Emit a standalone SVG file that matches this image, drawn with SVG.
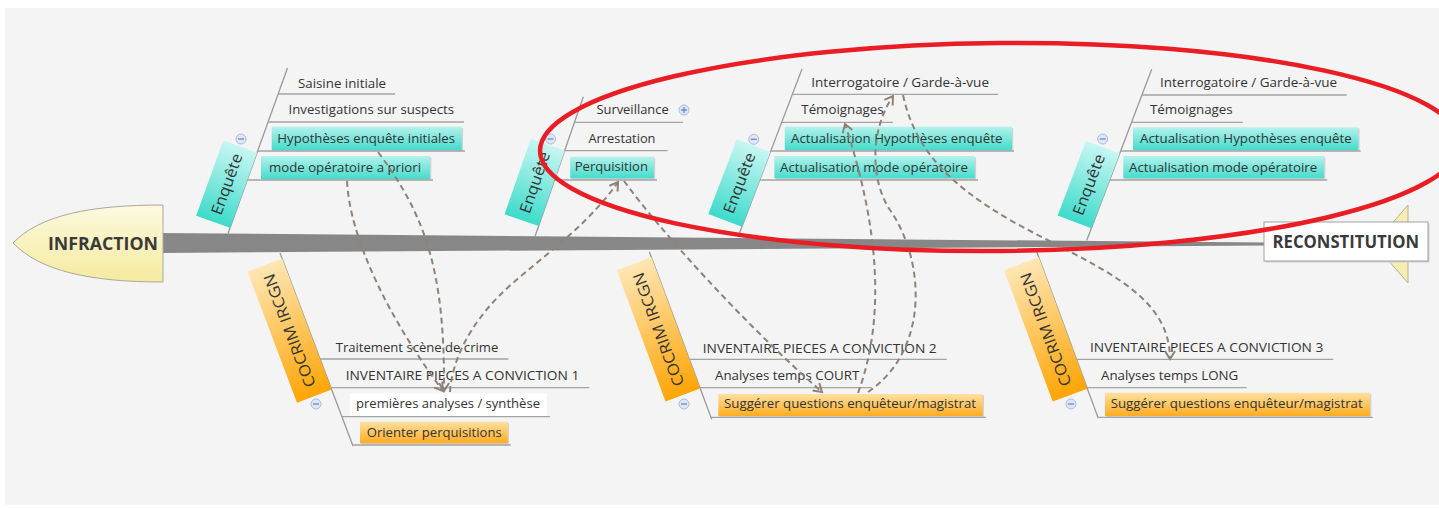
<svg xmlns="http://www.w3.org/2000/svg" width="1439" height="508" viewBox="0 0 1439 508">
<defs>
<style>
.t{font-family:"Open Sans","Liberation Sans",sans-serif;font-size:13px;fill:#333}
.cat{font-family:"Open Sans","Liberation Sans",sans-serif;font-size:15.5px;fill:#333}
.big{font-family:"Open Sans","Liberation Sans",sans-serif;font-size:17px;font-weight:bold;fill:#3a3a3a}
.sl{stroke:#a3a3a3;stroke-width:1.3;fill:none}
.dg{stroke:#9a9a9a;stroke-width:1.3;fill:none}
.teal{fill:url(#gTeal)}
.org{fill:url(#gOrg)}
.sh{fill:#d2d2d2}
.conn{fill:none;stroke:#8e8279;stroke-width:2;stroke-dasharray:6 4;marker-end:url(#arr)}
.ic circle{fill:#dfe7f7;stroke:#a9bbe3;stroke-width:1}
.ic path{stroke:#6f88c9;stroke-width:1.3;fill:none}
</style>
<linearGradient id="gTeal" x1="0" y1="0" x2="0" y2="1"><stop offset="0" stop-color="#b4f2ec"/><stop offset="1" stop-color="#44dccb"/></linearGradient>
<linearGradient id="gOrg" x1="0" y1="0" x2="0" y2="1"><stop offset="0" stop-color="#ffe0a2"/><stop offset="1" stop-color="#ffac20"/></linearGradient>
<linearGradient id="gEnq" x1="1" y1="0" x2="0" y2="0"><stop offset="0" stop-color="#c8f6f2"/><stop offset="1" stop-color="#3ddbca"/></linearGradient>
<linearGradient id="gCoc" x1="0" y1="0" x2="1" y2="0"><stop offset="0" stop-color="#ffe6b4"/><stop offset="1" stop-color="#ffa506"/></linearGradient>
<linearGradient id="gHead" x1="0" y1="0" x2="0" y2="1"><stop offset="0" stop-color="#fdf9e0"/><stop offset="1" stop-color="#f5ea9e"/></linearGradient>
<marker id="arr" markerUnits="userSpaceOnUse" markerWidth="14" markerHeight="14" refX="10" refY="6" orient="auto" viewBox="0 0 14 12">
<path d="M2,1 L10,6 L2,11" fill="none" stroke="#8e8279" stroke-width="2"/>
</marker>
</defs>

<rect x="0" y="0" width="1439" height="508" fill="#ffffff"/>
<rect x="5" y="8" width="1434" height="497" fill="#f4f4f4"/>

<g id="spine">
<polygon points="160,233 1264,242.5 1264,245.5 160,253" fill="#878787"/>
</g>

<g id="tail">
<polygon points="1408,205 1374,244 1408,283" fill="#f7eeb2" stroke="#b0b0a0" stroke-width="1"/>
</g>

<g id="infraction">
<path d="M163,205 C90,205 40,215 13,243 C40,271 90,282 163,282 Z" fill="url(#gHead)" stroke="#a8a8a0" stroke-width="1"/>
<text class="big" x="48" y="250" textLength="110" lengthAdjust="spacingAndGlyphs">INFRACTION</text>
</g>

<g id="reconstitution">
<rect x="1265.5" y="223.5" width="164" height="39" class="sh"/>
<rect x="1264" y="222" width="164" height="39" fill="#ffffff" stroke="#a0a0a0" stroke-width="1"/>
<text class="big" x="1272.5" y="248" textLength="146.7" lengthAdjust="spacingAndGlyphs">RECONSTITUTION</text>
</g>

<!-- Branch 1 -->
<g id="enquete1">
<line class="dg" x1="228" y1="233.5" x2="287.5" y2="68"/>
<g transform="translate(228,233.5) rotate(-70.2)">
<rect x="6" y="-36" width="80" height="36" fill="url(#gEnq)"/>
<text class="cat" x="46" y="-12.5" text-anchor="middle" textLength="64" lengthAdjust="spacingAndGlyphs">Enquête</text>
</g>
<g class="ic"><circle cx="241" cy="139" r="5"/><path d="M238,139 H244"/></g>
</g>
<g id="saisine"><line class="sl" x1="278.2" y1="94" x2="395" y2="94"/><text class="t" x="298" y="87.5" textLength="88" lengthAdjust="spacingAndGlyphs">Saisine initiale</text></g>
<g id="investigations"><line class="sl" x1="268.1" y1="122" x2="464" y2="122"/><text class="t" x="288.5" y="114" textLength="165.5" lengthAdjust="spacingAndGlyphs">Investigations sur suspects</text></g>
<g id="hypotheses1"><rect class="sh" x="273" y="128" width="190" height="23.3"/><rect class="teal" x="271.7" y="126.7" width="190" height="23.3"/><line class="sl" x1="257.7" y1="151" x2="465" y2="151"/><text class="t" x="277.3" y="143" textLength="177.7" lengthAdjust="spacingAndGlyphs">Hypothèses enquête initiales</text></g>
<g id="mode1"><rect class="sh" x="262.3" y="157.3" width="169" height="23"/><rect class="teal" x="261" y="156" width="169" height="23"/><line class="sl" x1="247.3" y1="180" x2="433" y2="180"/><text class="t" x="269" y="171.5" textLength="152" lengthAdjust="spacingAndGlyphs">mode opératoire a priori</text></g>

<!-- Branch 2 -->
<g id="enquete2">
<line class="dg" x1="535" y1="236.5" x2="583.3" y2="96.7"/>
<g transform="translate(535,236.5) rotate(-70.9)">
<rect x="11" y="-36" width="80" height="36" fill="url(#gEnq)"/>
<text class="cat" x="51" y="-12.5" text-anchor="middle" textLength="64" lengthAdjust="spacingAndGlyphs">Enquête</text>
</g>
<g class="ic"><circle cx="550.6" cy="139" r="5"/><path d="M547.6,139 H553.6"/></g>
</g>
<g id="surveillance"><line class="sl" x1="574.5" y1="122.3" x2="683" y2="122.3"/><text class="t" x="596.4" y="114.3" textLength="72.3" lengthAdjust="spacingAndGlyphs">Surveillance</text>
<g class="ic"><circle cx="684" cy="110" r="5"/><path d="M681,110 H687 M684,107 V113"/></g></g>
<g id="arrestation"><line class="sl" x1="564.6" y1="150.7" x2="667.7" y2="150.7"/><text class="t" x="588.5" y="143.3" textLength="67" lengthAdjust="spacingAndGlyphs">Arrestation</text></g>
<g id="perquisition"><rect class="sh" x="571.5" y="158" width="83.7" height="21.6"/><rect class="teal" x="570.2" y="156.7" width="83.7" height="21.6"/><line class="sl" x1="554.5" y1="180" x2="657" y2="180"/><text class="t" x="574.7" y="171" textLength="73.3" lengthAdjust="spacingAndGlyphs">Perquisition</text></g>

<!-- Branch 3 -->
<g id="enquete3">
<line class="dg" x1="738" y1="237" x2="802" y2="69"/>
<g transform="translate(738,237) rotate(-69.1)">
<rect x="11" y="-36" width="80" height="36" fill="url(#gEnq)"/>
<text class="cat" x="51" y="-12.5" text-anchor="middle" textLength="64" lengthAdjust="spacingAndGlyphs">Enquête</text>
</g>
<g class="ic"><circle cx="753.8" cy="139.3" r="5"/><path d="M750.8,139.3 H756.8"/></g>
</g>
<g id="interrogatoire3"><line class="sl" x1="792.4" y1="94.3" x2="998" y2="94.3"/><text class="t" x="811.3" y="86.5" textLength="177.7" lengthAdjust="spacingAndGlyphs">Interrogatoire / Garde-à-vue</text></g>
<g id="temoignages3"><line class="sl" x1="781.7" y1="122.3" x2="893" y2="122.3"/><text class="t" x="801.3" y="114" textLength="82.3" lengthAdjust="spacingAndGlyphs">Témoignages</text></g>
<g id="acthyp3"><rect class="sh" x="786" y="128" width="227.2" height="23.3"/><rect class="teal" x="784.8" y="126.7" width="227.2" height="23.3"/><line class="sl" x1="770.8" y1="151" x2="1014" y2="151"/><text class="t" x="791" y="143" textLength="211.4" lengthAdjust="spacingAndGlyphs">Actualisation Hypothèses enquête</text></g>
<g id="actmode3"><rect class="sh" x="775.7" y="157.3" width="200.4" height="22.3"/><rect class="teal" x="774.4" y="156" width="200.4" height="22.3"/><line class="sl" x1="759.7" y1="180" x2="978" y2="180"/><text class="t" x="780" y="171.5" textLength="188" lengthAdjust="spacingAndGlyphs">Actualisation mode opératoire</text></g>

<!-- Branch 4 -->
<g id="enquete4">
<line class="dg" x1="1086.7" y1="240.5" x2="1151.7" y2="69.3"/>
<g transform="translate(1086.7,240.5) rotate(-69.2)">
<rect x="13" y="-36" width="80" height="36" fill="url(#gEnq)"/>
<text class="cat" x="53" y="-12.5" text-anchor="middle" textLength="64" lengthAdjust="spacingAndGlyphs">Enquête</text>
</g>
<g class="ic"><circle cx="1102.7" cy="139" r="5"/><path d="M1099.7,139 H1105.7"/></g>
</g>
<g id="interrogatoire4"><line class="sl" x1="1142" y1="95" x2="1346.7" y2="95"/><text class="t" x="1160" y="86.5" textLength="177" lengthAdjust="spacingAndGlyphs">Interrogatoire / Garde-à-vue</text></g>
<g id="temoignages4"><line class="sl" x1="1131.6" y1="122.3" x2="1242.7" y2="122.3"/><text class="t" x="1150" y="114" textLength="82.7" lengthAdjust="spacingAndGlyphs">Témoignages</text></g>
<g id="acthyp4"><rect class="sh" x="1134.3" y="128.6" width="225.3" height="22.7"/><rect class="teal" x="1133" y="127.3" width="225.3" height="22.7"/><line class="sl" x1="1120.7" y1="151" x2="1360.7" y2="151"/><text class="t" x="1140" y="143.3" textLength="211.7" lengthAdjust="spacingAndGlyphs">Actualisation Hypothèses enquête</text></g>
<g id="actmode4"><rect class="sh" x="1124.6" y="157.3" width="200.7" height="22.3"/><rect class="teal" x="1123.3" y="156" width="200.7" height="22.3"/><line class="sl" x1="1109.7" y1="180" x2="1327.3" y2="180"/><text class="t" x="1129" y="171.7" textLength="188.3" lengthAdjust="spacingAndGlyphs">Actualisation mode opératoire</text></g>

<!-- Branch 5 -->
<g id="cocrim1">
<line class="dg" x1="280" y1="253" x2="353" y2="446"/>
<g transform="translate(280,253) rotate(69.3)">
<rect x="6" y="0" width="140" height="37" fill="url(#gCoc)"/>
<text class="cat" transform="rotate(180 76 18.5)" x="76" y="24" text-anchor="middle" font-size="16" textLength="120" lengthAdjust="spacingAndGlyphs">COCRIM IRCGN</text>
</g>
<g class="ic"><circle cx="316" cy="404" r="5"/><path d="M313,404 H319"/></g>
</g>
<g id="traitement"><line class="sl" x1="320" y1="359" x2="508.3" y2="359"/><text class="t" x="335.7" y="351.7" textLength="162.6" lengthAdjust="spacingAndGlyphs">Traitement scène de crime</text></g>
<g id="inventaire1"><line class="sl" x1="331" y1="387.7" x2="589.3" y2="387.7"/><text class="t" x="345.7" y="380" textLength="233.6" lengthAdjust="spacingAndGlyphs">INVENTAIRE PIECES A CONVICTION 1</text></g>
<g id="premieres"><rect x="350" y="393.3" width="196.7" height="22.7" fill="#ffffff"/><line class="sl" x1="341.9" y1="416.7" x2="550" y2="416.7"/><text class="t" x="356" y="408.3" textLength="184" lengthAdjust="spacingAndGlyphs">premières analyses / synthèse</text></g>
<g id="orienter"><rect class="sh" x="361.3" y="423" width="147.7" height="21.6"/><rect class="org" x="360" y="421.7" width="147.7" height="21.6"/><line class="sl" x1="352.6" y1="445" x2="510.7" y2="445"/><text class="t" x="366.7" y="436.7" textLength="135" lengthAdjust="spacingAndGlyphs">Orienter perquisitions</text></g>

<!-- Branch 6 -->
<g id="cocrim2">
<line class="dg" x1="649.3" y1="251.7" x2="711.7" y2="419.3"/>
<g transform="translate(649.3,251.7) rotate(69.6)">
<rect x="6" y="0" width="140" height="37" fill="url(#gCoc)"/>
<text class="cat" transform="rotate(180 76 18.5)" x="76" y="24" text-anchor="middle" font-size="16" textLength="120" lengthAdjust="spacingAndGlyphs">COCRIM IRCGN</text>
</g>
<g class="ic"><circle cx="684" cy="404" r="5"/><path d="M681,404 H687"/></g>
</g>
<g id="inventaire2"><line class="sl" x1="689.3" y1="359.3" x2="946.7" y2="359.3"/><text class="t" x="702.7" y="352.5" textLength="234" lengthAdjust="spacingAndGlyphs">INVENTAIRE PIECES A CONVICTION 2</text></g>
<g id="court"><line class="sl" x1="699.9" y1="387.7" x2="871.7" y2="387.7"/><text class="t" x="715" y="380" textLength="144.3" lengthAdjust="spacingAndGlyphs">Analyses temps COURT</text></g>
<g id="suggerer2"><rect class="sh" x="719.6" y="395.3" width="264.4" height="22"/><rect class="org" x="718.3" y="394" width="264.4" height="22"/><line class="sl" x1="710.9" y1="417.3" x2="986" y2="417.3"/><text class="t" x="724" y="408.3" textLength="252" lengthAdjust="spacingAndGlyphs">Suggérer questions enquêteur/magistrat</text></g>

<!-- Branch 7 -->
<g id="cocrim3">
<line class="dg" x1="1036.7" y1="251.7" x2="1098.3" y2="418.3"/>
<g transform="translate(1036.7,251.7) rotate(69.7)">
<rect x="6" y="0" width="140" height="37" fill="url(#gCoc)"/>
<text class="cat" transform="rotate(180 76 18.5)" x="76" y="24" text-anchor="middle" font-size="16" textLength="120" lengthAdjust="spacingAndGlyphs">COCRIM IRCGN</text>
</g>
<g class="ic"><circle cx="1071" cy="404" r="5"/><path d="M1068,404 H1074"/></g>
</g>
<g id="inventaire3"><line class="sl" x1="1076.5" y1="359.3" x2="1333.3" y2="359.3"/><text class="t" x="1090" y="352" textLength="233.3" lengthAdjust="spacingAndGlyphs">INVENTAIRE PIECES A CONVICTION 3</text></g>
<g id="long"><line class="sl" x1="1087" y1="387.7" x2="1246.7" y2="387.7"/><text class="t" x="1101" y="380" textLength="137.3" lengthAdjust="spacingAndGlyphs">Analyses temps LONG</text></g>
<g id="suggerer3"><rect class="sh" x="1106.3" y="394" width="265" height="23.3"/><rect class="org" x="1105" y="392.7" width="265" height="23.3"/><line class="sl" x1="1098" y1="417.3" x2="1372.7" y2="417.3"/><text class="t" x="1110.7" y="408.3" textLength="252" lengthAdjust="spacingAndGlyphs">Suggérer questions enquêteur/magistrat</text></g>

<g id="connectors">
<path class="conn" d="M347,181 C350,240 390,320 443,391"/>
<path class="conn" d="M378,152 C425,215 445,270 444,391"/>
<path class="conn" d="M450,392 C452,360 470,325 500,295 S585,230 618,182"/>
<path class="conn" d="M624,181 C660,230 740,320 822,392"/>
<path class="conn" d="M858,393 C885,320 880,230 845,124"/>
<path class="conn" d="M868,392 C930,350 925,260 890,210 C870,180 870,130 893,96"/>
<path class="conn" d="M903,95 C915,150 950,185 1010,220 C1090,265 1170,290 1170,359"/>
</g>

<g id="highlight">
<ellipse cx="1000" cy="147" rx="460" ry="104" transform="rotate(-0.5 1000 147)" fill="none" stroke="#ea1c24" stroke-width="4.5"/>
</g>
</svg>
